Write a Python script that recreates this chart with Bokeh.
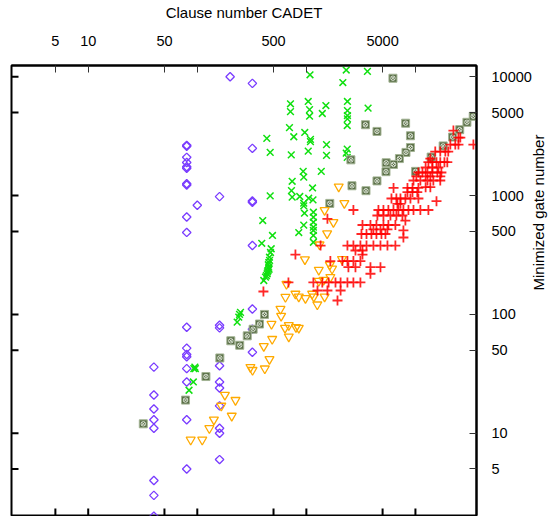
import math
from bokeh.plotting import figure
from bokeh.models import FixedTicker, NumeralTickFormatter, Range1d
from bokeh.embed import file_html
from bokeh.resources import INLINE

# ---------------- axes ----------------
x_major_ticks = [5, 10, 50, 500, 5000]
x_minor_ticks = [100, 1000, 10000]
y_ticks = [5, 10, 50, 100, 500, 1000, 5000, 10000]
x_bounds = (1.98, 36300)
y_bounds = (2.03, 12450)
x_title = "Clause number CADET"
y_title = "Minimized gate number"

# ---------------- series ----------------
purple_x = [200, 320, 80, 80, 80, 80, 80, 80, 80, 80, 320, 160, 100, 320, 320,
            80, 80, 320, 320, 80, 160, 160, 320, 80, 80, 80, 40, 80, 160, 320,
            80, 160, 160, 40, 40, 40, 40, 80, 160, 160, 160, 160, 80, 40, 40, 40]
purple_y = [10000, 8800, 2650, 2600, 2100, 1900, 1750, 1700, 1260, 1230, 2500, 980, 830, 900, 880,
            660, 490, 380, 111, 78, 81, 77, 75, 52, 46, 44, 36, 35, 37, 48,
            27, 27, 24, 21, 16, 13, 11, 13, 17, 11, 10, 6, 5, 4, 3, 2]

green_x = [1080, 2320, 3630, 2160, 715, 715, 1040, 1070, 1070, 1510, 1400, 2380, 2380, 2380, 2380,
           2370, 3680, 700, 767, 967, 1090, 1090, 434, 466, 727, 1040, 1530, 1530, 2370, 2320,
           2370, 935, 946, 1370, 741, 1140, 730, 741, 466, 870, 946, 946, 1050, 1150, 961,
           1160, 1160, 1160, 1160, 1160, 1160, 1160, 946, 852, 398, 489, 390, 476, 469, 459,
           452, 452, 445, 437, 422, 407, 249, 240, 232, 244, 93, 95, 92, 84, 96,
           460, 448, 440, 430, 455]
green_y = [10400, 11400, 11100, 8950, 5930, 5100, 6200, 5300, 4660, 5730, 4910, 6200, 5200, 4720, 4430,
           3890, 5450, 3740, 3130, 3400, 2970, 2850, 3030, 2310, 2200, 2370, 2690, 2180, 2460, 2280,
           2100, 1600, 1430, 1600, 1320, 1160, 1100, 970, 996, 983, 863, 820, 951, 922, 711,
           725, 658, 597, 542, 509, 462, 405, 564, 489, 617, 462, 397, 357, 332, 303,
           273, 250, 234, 220, 206, 193, 104, 95, 86, 100, 35, 36, 27, 23, 35,
           285, 262, 228, 212, 240]

olive_x = [6220, 3480, 8130, 4440, 9000, 9000, 8190, 7130, 6290, 5390, 5370, 2560, 4440, 2620, 3520,
           10040, 13930, 17950, 21930, 25470, 29650, 33880, 1640, 413, 372, 325, 287, 203, 245, 161,
           120, 78, 32]
olive_y = [9730, 3950, 4070, 3470, 3190, 2540, 2310, 2050, 1830, 1890, 1590, 2000, 1330, 1210, 1100,
           1600, 2110, 2620, 3110, 3590, 4140, 4650, 860, 100, 83, 75, 66, 60, 55, 43,
           30, 19, 12]

orange_x = [1980, 2230, 1470, 1770, 1550, 1320, 970, 2120, 1640, 1720, 1300, 1440, 1660, 1300, 657,
            643, 794, 852, 981, 1130, 1170, 1470, 1260, 579, 587, 479, 637, 690, 803, 852,
            690, 486, 407, 459, 307, 321, 416, 179, 224, 166, 207, 142, 129, 87, 111]
orange_y = [1190, 863, 754, 597, 480, 387, 290, 292, 262, 242, 237, 195, 206, 191, 180,
            140, 149, 141, 137, 149, 141, 141, 121, 111, 97, 83, 77, 81, 78, 77,
            65, 62, 54, 42, 36, 34, 35, 21, 19, 17, 14, 13, 11, 8.8, 8.8]

red_x = [20900, 23200, 24800, 34000,
         22300,
         24800, 25800,
         15200, 16900, 18800, 20000,
         13700,
         13150, 14300, 15600, 16900, 18450, 19600,
         12400, 14300, 16250,
         10650, 11600, 12900, 14300, 15900, 17300,
         10200, 12400, 13700, 16900,
         9600, 11100, 12900, 14600, 16900,
         12400, 13700,
         6300, 8450, 9400, 10650,
         8450, 9400, 10400,
         6030, 6690, 7290, 8090, 9000, 10650,
         15600,
         6840, 7290,
         2700, 4580, 5090, 5650, 6290, 6980, 7760, 8630, 9600, 11100, 13150,
         4480, 5090, 5900, 6690, 7600,
         1560,
         8090,
         3270, 3870, 4390, 5090, 5650, 6550,
         4120, 4780, 5540,
         7760,
         3200, 3560, 3950, 4390, 4880, 5310,
         7760,
         1350, 2380, 2700, 3130, 3560, 4120, 4780, 5540, 6550,
         2820, 3270,
         794, 3270,
         1660, 2140, 2380, 2700, 3130,
         2430, 2820, 3870, 4780,
         3870,
         685, 1160, 1400, 1600, 1850, 2060, 2380, 2700, 3130,
         1265, 1560, 2060,
         404,
         1930]
red_y = [2690, 2690, 2690, 2690,
         3530,
         3080, 3080,
         2350, 2350, 2350, 2350,
         2050,
         1910, 1910, 1910, 1910, 1910, 1910,
         1725, 1725, 1725,
         1565, 1565, 1565, 1565, 1565, 1565,
         1450, 1450, 1450, 1450,
         1340, 1340, 1340, 1340, 1340,
         1177, 1177,
         1160, 1160, 1160, 1160,
         1070, 1070, 1070,
         946, 946, 946, 946, 946, 946,
         897,
         853, 853,
         757, 757, 757, 757, 757, 757, 757, 757, 757, 757, 757,
         680, 680, 680, 680, 680,
         638,
         617,
         566, 566, 566, 566, 566, 566,
         519, 519, 519,
         509,
         475, 475, 475, 475, 475, 475,
         444,
         380, 380, 380, 380, 380, 380, 380, 380, 380,
         345, 345,
         319, 319,
         281, 281, 281, 281, 281,
         250, 250, 250, 250,
         220,
         186, 186, 186, 186, 186, 186, 186, 186, 186,
         159, 159, 159,
         156,
         131]

FONT = "Liberation Sans"

p = figure(
    x_axis_type="log", y_axis_type="log",
    x_range=Range1d(*x_bounds), y_range=Range1d(*y_bounds),
    x_axis_location="above", y_axis_location="right",
    frame_width=465, frame_height=450,
    min_border_left=11, min_border_right=0, min_border_top=65, min_border_bottom=1,
    output_backend="svg", toolbar_location=None,
    background_fill_color="white", border_fill_color="white",
)
p.grid.visible = False
p.outline_line_color = "black"
p.outline_line_width = 2

# top axis
xa = p.xaxis[0]
xa.ticker = FixedTicker(ticks=x_major_ticks, minor_ticks=x_minor_ticks)
xa.formatter = NumeralTickFormatter(format="0")
xa.axis_label = x_title
# right axis
ya = p.yaxis[0]
ya.ticker = FixedTicker(ticks=y_ticks)
ya.formatter = NumeralTickFormatter(format="0")
ya.axis_label = y_title

for ax in (xa, ya):
    ax.major_label_text_font = FONT
    ax.major_label_text_font_size = "14.5px"
    ax.major_label_text_color = "black"
    ax.axis_label_text_font = FONT
    ax.axis_label_text_font_size = "15px"
    ax.axis_label_text_font_style = "normal"
    ax.axis_label_text_color = "black"
    ax.major_tick_in = 7
    ax.major_tick_out = 0
    ax.minor_tick_in = 7
    ax.minor_tick_out = 0
    ax.major_tick_line_color = "#333333"
    ax.minor_tick_line_color = "#333333"
    ax.major_tick_line_width = 1
    ax.minor_tick_line_width = 1
    ax.axis_line_color = "black"
    ax.axis_line_width = 2
xa.major_label_standoff = 20
xa.axis_label_standoff = 12
ya.major_label_standoff = 15
ya.axis_label_standoff = 4
try:
    ya.axis_label_orientation = math.pi / 2
except Exception:
    pass

# mirrored ticks on the unlabeled left / bottom edges
p.ray(x=[x_bounds[0]] * len(y_ticks), y=y_ticks, length=7, length_units="screen",
      angle=0, line_color="black", line_width=2)
bottom_ticks = x_major_ticks + x_minor_ticks
p.ray(x=bottom_ticks, y=[y_bounds[0]] * len(bottom_ticks), length=7, length_units="screen",
      angle=math.pi / 2, line_color="black", line_width=2)

# ---------------- glyphs ----------------
p.scatter(purple_x, purple_y, marker="square", angle=45, angle_units="deg", size=6,
          fill_color=None, line_color="#7a3cff", line_width=1.3)
p.scatter(green_x, green_y, marker="x", size=9.5, line_color="#10e010", line_width=1.5)
p.scatter(olive_x, olive_y, marker="square", size=8, fill_color="#5b7048",
          line_color="#a3b394", line_width=1)
p.scatter(olive_x, olive_y, marker="circle_x", size=4.5, fill_color=None,
          line_color="#eef2ea", line_width=0.8)
p.scatter(orange_x, orange_y, marker="inverted_triangle", size=9, fill_color=None,
          line_color="#ffaa00", line_width=1.3)
p.scatter(red_x, red_y, marker="cross", size=10, line_color="#ff0000", line_width=1.8,
          line_alpha=0.85)

open("out.html", "w").write(file_html(p, INLINE))
